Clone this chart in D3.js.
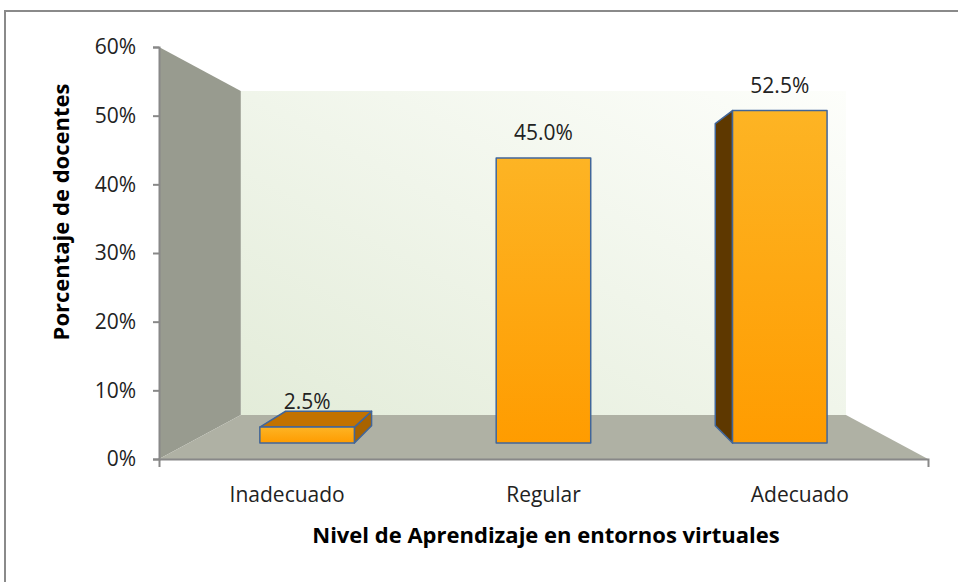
<!DOCTYPE html>
<html>
<head>
<meta charset="utf-8">
<script src="https://cdn.jsdelivr.net/npm/d3@7"></script>
<style>
  body { margin: 0; background: #fff; }
  svg { display: block; font-family: "Open Sans", sans-serif; }
  .tick text { fill: #222; font-size: 21px; }
  .label { fill: #222; font-size: 21px; }
  .title { fill: #000; font-size: 22px; font-weight: bold; }
</style>
</head>
<body>
<svg width="958" height="582"></svg>
<script>
// chart data
var categories = ["Inadecuado", "Regular", "Adecuado"];
var values = [2.5, 45.0, 52.5];
var yTicks = [0, 10, 20, 30, 40, 50, 60];

var svg = d3.select("svg");

// front plane of the 3d box
var boxLeft = 159, boxRight = 928, boxTop = 47, boxBottom = 459;

// vanishing point and depth factors (1 = front wall)
var vp = {x: 543, y: 253};
var sBack = 0.787, barFront = 0.922, barBack = 0.838;

var y = d3.scaleLinear()
    .domain([0, 60])
    .range([boxBottom, boxTop]);

var x = d3.scaleBand()
    .domain(categories)
    .range([boxLeft, boxRight])
    .paddingInner(0.6)
    .paddingOuter(0.3);

// project a point of the front plane back in depth
function proj(px, py, s) {
  return [vp.x + (px - vp.x) * s, vp.y + (py - vp.y) * s];
}

function poly(pts) {
  return "M" + pts.map(function(p) { return p[0] + "," + p[1]; }).join("L") + "Z";
}

// gradients
var defs = svg.append("defs");
var wallGrad = defs.append("linearGradient")
    .attr("id", "wall")
    .attr("x1", 0).attr("y1", 1).attr("x2", 1).attr("y2", 0);
wallGrad.append("stop").attr("offset", "0%").attr("stop-color", "#e3ecd9");
wallGrad.append("stop").attr("offset", "100%").attr("stop-color", "#fdfefb");

var barGrad = defs.append("linearGradient")
    .attr("id", "barFront")
    .attr("x1", 0).attr("y1", 0).attr("x2", 0).attr("y2", 1);
barGrad.append("stop").attr("offset", "0%").attr("stop-color", "#fdb424");
barGrad.append("stop").attr("offset", "100%").attr("stop-color", "#ff9c00");

// outer border
svg.append("rect")
  .attr("x", 5)
  .attr("y", 11)
  .attr("width", 980)
  .attr("height", 620)
  .attr("fill", "none")
  .attr("stroke", "#8a8a8a")
  .attr("stroke-width", 2);

// back wall
svg.append("path")
  .attr("d", poly([proj(boxLeft, boxTop, sBack), proj(boxRight, boxTop, sBack),
                   proj(boxRight, boxBottom, sBack), proj(boxLeft, boxBottom, sBack)]))
  .attr("fill", "url(#wall)");

// side wall
svg.append("path")
  .attr("d", poly([[boxLeft, boxTop], proj(boxLeft, boxTop, sBack),
                   proj(boxLeft, boxBottom, sBack), [boxLeft, boxBottom]]))
  .attr("fill", "#989b8f");

// floor
svg.append("path")
  .attr("d", poly([[boxLeft, boxBottom], proj(boxLeft, boxBottom, sBack),
                   proj(boxRight, boxBottom, sBack), [boxRight, boxBottom]]))
  .attr("fill", "#afb1a4");

// bars
var bars = svg.append("g");
values.forEach(function(v, i) {
  var x0 = x(categories[i]), x1 = x0 + x.bandwidth();
  var yt = y(v), yb = y(0);
  var g = bars.append("g")
      .attr("stroke", "#41669a")
      .attr("stroke-width", 1.5)
      .attr("stroke-linejoin", "round");

  // right side face
  if (x1 < vp.x) {
    g.append("path")
      .attr("d", poly([proj(x1, yt, barFront), proj(x1, yt, barBack),
                       proj(x1, yb, barBack), proj(x1, yb, barFront)]))
      .attr("fill", "#a86300");
  }
  // left side face
  if (x0 > vp.x) {
    g.append("path")
      .attr("d", poly([proj(x0, yt, barFront), proj(x0, yt, barBack),
                       proj(x0, yb, barBack), proj(x0, yb, barFront)]))
      .attr("fill", "#5e3800");
  }
  // top face
  if (yt > vp.y) {
    g.append("path")
      .attr("d", poly([proj(x0, yt, barFront), proj(x0, yt, barBack),
                       proj(x1, yt, barBack), proj(x1, yt, barFront)]))
      .attr("fill", "#c27200");
  }
  // front face
  var a = proj(x0, yt, barFront), b = proj(x1, yb, barFront);
  g.append("rect")
    .attr("x", a[0])
    .attr("y", a[1])
    .attr("width", b[0] - a[0])
    .attr("height", b[1] - a[1])
    .attr("fill", "url(#barFront)");

  // value label
  svg.append("text")
    .attr("class", "label")
    .attr("x", (a[0] + b[0]) / 2)
    .attr("y", a[1] - 18)
    .attr("text-anchor", "middle")
    .text(d3.format(".1f")(v) + "%");
});

// y axis
var yAxis = d3.axisLeft(y)
    .tickValues(yTicks)
    .tickSize(6)
    .tickPadding(17)
    .tickFormat(function(d) { return d + "%"; });

var gy = svg.append("g")
  .attr("transform", "translate(" + boxLeft + ",0)")
  .call(yAxis);
gy.select(".domain").attr("stroke", "#888").attr("stroke-width", 2);
gy.selectAll(".tick line").attr("stroke", "#888").attr("stroke-width", 2);
gy.selectAll(".tick text").attr("font-family", "Open Sans");

// x axis (front edge of the floor)
var xAxis = d3.axisBottom(x)
    .tickSizeInner(0)
    .tickSizeOuter(8)
    .tickPadding(28);

var gx = svg.append("g")
  .attr("transform", "translate(0," + boxBottom + ")")
  .call(xAxis);
gx.select(".domain").attr("stroke", "#888").attr("stroke-width", 2);
gx.selectAll(".tick text").attr("font-family", "Open Sans");

// axis titles
svg.append("text")
  .attr("class", "title")
  .attr("transform", "rotate(-90)")
  .attr("x", -212)
  .attr("y", 69)
  .attr("text-anchor", "middle")
  .text("Porcentaje de docentes");

svg.append("text")
  .attr("class", "title")
  .attr("x", 546)
  .attr("y", 543)
  .attr("text-anchor", "middle")
  .text("Nivel de Aprendizaje en entornos virtuales");
</script>
</body>
</html>
